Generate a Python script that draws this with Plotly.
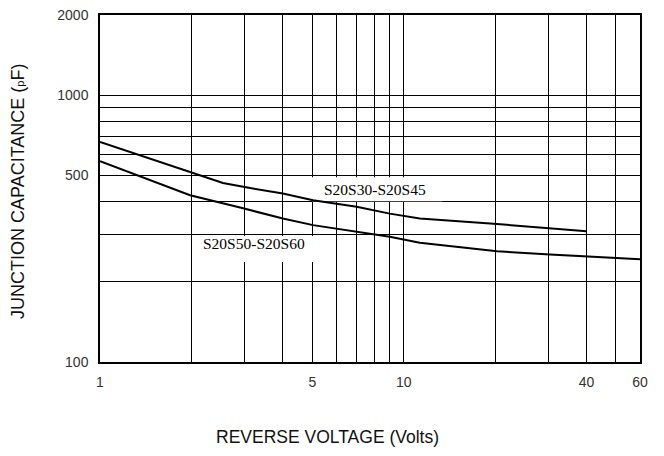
import math
import plotly.graph_objects as go

# Data (reverse voltage in volts, capacitance in pF)
v_s30_s45 = [1.0, 1.98, 2.54, 3.12, 4.0, 5.03, 7.0, 9.0, 11.3, 20.3, 30.3, 40.0]
c_s30_s45 = [668, 516, 469, 449, 428, 404, 382, 360, 345, 329, 317, 309]

v_s50_s60 = [1.0, 1.98, 2.96, 4.0, 5.03, 7.0, 9.0, 11.3, 20.3, 30.3, 40.0, 60.0]
c_s50_s60 = [566, 422, 377, 345, 326, 308, 295, 280, 260, 253, 249, 243]

x_grid = [1, 2, 3, 4, 5, 6, 7, 8, 9, 10, 20, 30, 40, 50, 60]
x_labels = ["1", "", "", "", "5", "", "", "", "", "10", "", "", "40", "", "60"]
y_grid = [100, 200, 300, 400, 500, 600, 700, 800, 900, 1000, 2000]
y_labels = ["100", "", "", "", "500", "", "", "", "", "1000", "2000"]

label_a = "S20S30-S20S45"
label_b = "S20S50-S20S60"

X_MIN, X_MAX = 1, 60
Y_MIN, Y_MAX = 100, 2000

SERIF = "Liberation Serif"


def fx(v):
    return (math.log10(v) - math.log10(X_MIN)) / (math.log10(X_MAX) - math.log10(X_MIN))


def fy(c):
    return (math.log10(c) - math.log10(Y_MIN)) / (math.log10(Y_MAX) - math.log10(Y_MIN))


fig = go.Figure()
fig.add_trace(go.Scatter(x=v_s30_s45, y=c_s30_s45, mode="lines",
                         line=dict(color="black", width=2), showlegend=False))
fig.add_trace(go.Scatter(x=v_s50_s60, y=c_s50_s60, mode="lines",
                         line=dict(color="black", width=2), showlegend=False))

# white boxes behind the curve labels (cover grid lines, drawn between grid and traces)
fig.add_shape(type="rect", x0=4.99, x1=13.4, y0=401, y1=493,
              xref="x", yref="y",
              fillcolor="white", line=dict(width=0), layer="between")
fig.add_shape(type="rect", x0=2.01, x1=5.18, y0=237, y1=296.5,
              xref="x", yref="y",
              fillcolor="white", line=dict(width=0), layer="between")

fig.add_annotation(x=fx(8.04), y=fy(445), xref="paper", yref="paper", text=label_a,
                   showarrow=False, xanchor="center", yanchor="middle",
                   font=dict(family=SERIF, size=15.5, color="black"))
fig.add_annotation(x=fx(3.21), y=fy(279), xref="paper", yref="paper", text=label_b,
                   showarrow=False, xanchor="center", yanchor="middle",
                   font=dict(family=SERIF, size=15.5, color="black"))

PLOT_W, PLOT_H = 540, 347
fig.add_annotation(x=(327 - 100) / PLOT_W, y=-(437 - 362) / PLOT_H, xref="paper", yref="paper",
                   text="REVERSE VOLTAGE (Volts)", showarrow=False,
                   xanchor="center", yanchor="middle",
                   font=dict(family="Liberation Sans", size=17.5, color="#111"))
fig.add_annotation(x=(18 - 100) / PLOT_W, y=(362 - 192) / PLOT_H, xref="paper", yref="paper",
                   text="JUNCTION CAPACITANCE (<span style='font-size:11px'>p</span>F)",
                   showarrow=False, textangle=-90, xanchor="center", yanchor="middle",
                   font=dict(family="Liberation Sans", size=18, color="#111"))

axis_common = dict(type="log", showline=True, linecolor="black", linewidth=1.5, mirror=True,
                   showgrid=True, gridcolor="black", gridwidth=1, ticks="", zeroline=False,
                   tickfont=dict(family="Liberation Sans", size=14, color="#333"))

fig.update_xaxes(range=[math.log10(X_MIN), math.log10(X_MAX)], tickmode="array",
                 tickvals=x_grid, ticktext=x_labels, ticklabelstandoff=6, **axis_common)
fig.update_yaxes(range=[math.log10(Y_MIN), math.log10(Y_MAX)], tickmode="array",
                 tickvals=y_grid, ticktext=y_labels, ticklabelstandoff=7, **axis_common)

fig.update_layout(width=664, height=456, margin=dict(l=100, r=24, t=15, b=94, autoexpand=False),
                  plot_bgcolor="white", paper_bgcolor="white")

fig.write_html("out.html", config={"displayModeBar": False},
               post_script="document.body.style.margin='0';")
